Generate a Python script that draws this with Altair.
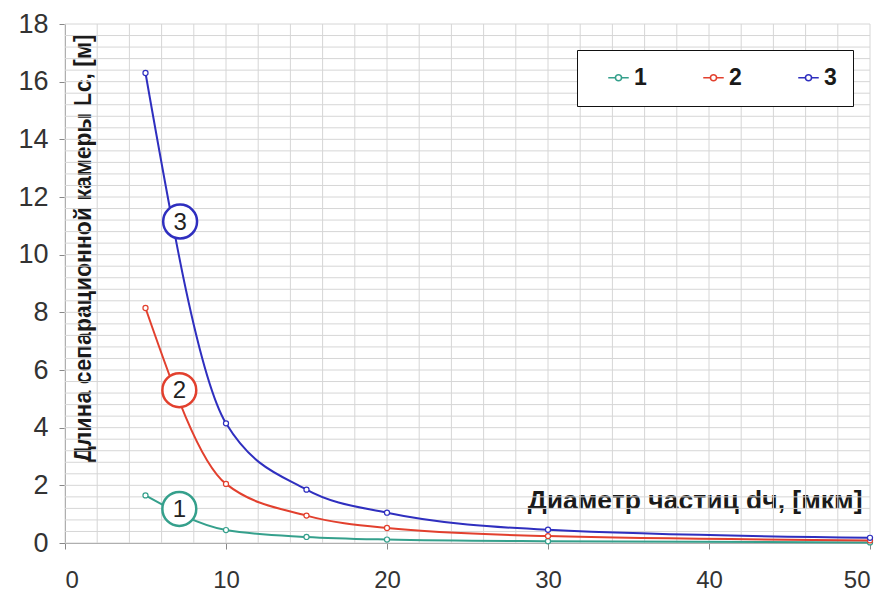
import altair as alt
import pandas as pd

# data
diam = [5, 10, 15, 20, 30, 50]
series_1 = [1.65, 0.45, 0.21, 0.12, 0.06, 0.02]
series_2 = [8.15, 2.05, 0.95, 0.52, 0.24, 0.09]
series_3 = [16.3, 4.15, 1.85, 1.05, 0.46, 0.18]
series_names = ["1", "2", "3"]
colors = ["#35a08c", "#e2402e", "#2f2fbf"]

label_x = [7.1, 7.1, 7.15]
label_y = [1.18, 5.3, 11.15]

x_ticks = [0, 10, 20, 30, 40, 50]
y_ticks = [0, 2, 4, 6, 8, 10, 12, 14, 16, 18]
x_grid = list(range(0, 51, 2))
y_grid = [round(0.4 * i, 2) for i in range(46)]

rows = []
for name, vals in zip(series_names, [series_1, series_2, series_3]):
    for d, v in zip(diam, vals):
        rows.append({"d": d, "L": v, "s": name})
df = pd.DataFrame(rows)
lab = pd.DataFrame({"d": label_x, "L": label_y, "s": series_names})

xs = alt.Scale(domain=[0, 50], nice=False, zero=False)
ys = alt.Scale(domain=[0, 18], nice=False)
cs = alt.Scale(domain=series_names, range=colors)

font = "Liberation Sans"

xa = alt.Axis(
    values=x_ticks, grid=False, tickSize=6, labelPadding=38, labelFontSize=24,
    labelBaseline="alphabetic",
    labelFont=font, labelColor="#333", domainColor="#888", tickColor="#888",
    title="Диаметр частиц dч, [мкм]", titleFont=font, titleFontSize=26.5,
    titleFontWeight="bold", titleColor="#1a1a1a", titleAlign="right",
    titleAnchor="end", titleX=797, titleY=-35, titleBaseline="alphabetic")
ya = alt.Axis(
    values=y_ticks, grid=False, tickSize=6, labelPadding=11, labelFontSize=27,
    labelFont=font, labelColor="#333", domainColor="#888", tickColor="#888",
    title="Длина сепарационной камеры Lс, [м]", titleFont=font, titleFontSize=23,
    titleFontWeight="bold", titleColor="#1a1a1a", titleAngle=270,
    titleX=18, titleY=224, titleAlign="center", titleBaseline="middle")

gx = alt.Chart(pd.DataFrame({"d": x_grid})).mark_rule(color="#d6d6d6", strokeWidth=1).encode(
    x=alt.X("d:Q", scale=xs, axis=xa))
gy = alt.Chart(pd.DataFrame({"L": y_grid})).mark_rule(color="#d6d6d6", strokeWidth=1).encode(
    y=alt.Y("L:Q", scale=ys, axis=ya))

legend_symbol = ("M-1,0L-0.32,0M0.32,0L1,0"
                 "M-0.3,0A0.3,0.3 0 1,1 0.3,0A0.3,0.3 0 1,1 -0.3,0Z")

lines = alt.Chart(df).mark_line(
    interpolate="monotone", strokeWidth=2,
    point=alt.OverlayMarkDef(filled=False, fill="white", size=26, strokeWidth=1.2),
).encode(
    x=alt.X("d:Q", scale=xs, axis=xa),
    y=alt.Y("L:Q", scale=ys, axis=ya),
    color=alt.Color("s:N", scale=cs, legend=alt.Legend(
        title=None, orient="none", legendX=512, legendY=26, direction="horizontal",
        strokeColor="#111", fillColor="white", padding=16, columnPadding=41,
        symbolType=legend_symbol, symbolSize=420, symbolStrokeWidth=1.6,
        symbolFillColor="white",
        labelFont=font, labelFontSize=23, labelFontWeight="bold", labelColor="#1a1a1a",
        labelOffset=4, symbolOffset=14)),
)

circ = alt.Chart(lab).mark_point(shape="circle", filled=True, fill="white", size=1150,
                                 strokeWidth=2.5, opacity=1).encode(
    x=alt.X("d:Q", scale=xs, axis=xa), y=alt.Y("L:Q", scale=ys, axis=ya),
    stroke=alt.Stroke("s:N", scale=cs, legend=None))
txt = alt.Chart(lab).mark_text(font=font, fontSize=24, color="#222", dy=1).encode(
    x=alt.X("d:Q", scale=xs, axis=xa), y=alt.Y("L:Q", scale=ys, axis=ya), text="s:N")

chart = alt.layer(gx, gy, lines, circ, txt).properties(
    width=805, height=519,
    autosize=alt.AutoSizeParams(type="none"),
    padding={"left": 57, "top": 16, "right": 11, "bottom": 50},
).configure_view(stroke=None)

chart.save("out.html", embed_options={"renderer": "svg", "actions": False})
